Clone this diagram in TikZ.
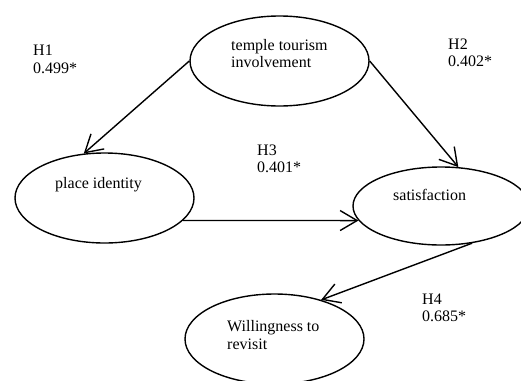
\documentclass[tikz,border=0pt]{standalone}
\usepackage{fontspec}
\setmainfont{Liberation Serif}
\usetikzlibrary{shapes.geometric,arrows.meta}
\begin{document}
\begin{tikzpicture}[x=1pt,y=-1pt,
  oval/.style={draw,ellipse,line width=1.4pt,inner sep=0pt},
  lbl/.style={anchor=base west,inner sep=0pt,align=left,font=\fontsize{16}{17.5}\selectfont},
  path/.style={draw,line width=1.4pt,-{Straight Barb[length=17pt,width=20pt,line width=1.4pt]}}]
\useasboundingbox (0,0) rectangle (521,380);
\node[oval,minimum width=179pt,minimum height=90pt] (t) at (279.5,61) {};
\node[oval,minimum width=179pt,minimum height=90pt] (p) at (104.5,198) {};
\node[oval,minimum width=176pt,minimum height=78pt] (s) at (441,206) {};
\node[oval,minimum width=179pt,minimum height=90pt] (w) at (274.5,339) {};
\node[lbl] (tt) at (231,67.5) {temple tourism\\involvement};
\node[lbl] (pt) at (55,188) {place identity};
\node[lbl] (st) at (393,200) {satisfaction};
\node[lbl] (wt) at (227,349) {Willingness to\\revisit};
\node[lbl] (h1) at (33,73) {H1\\0.499*};
\node[lbl] (h2) at (448,66.5) {H2\\0.402*};
\node[lbl] (h3) at (257,172.5) {H3\\0.401*};
\node[lbl] (h4) at (422,321.5) {H4\\0.685*};
\draw[path] (t.west) -- (p.115);
\draw[path] (t.east) -- (s.66);
\draw[path] (p.-16) -- (s.190);
\draw[path] (s.-50) -- (w.40);
\end{tikzpicture}
\end{document}
